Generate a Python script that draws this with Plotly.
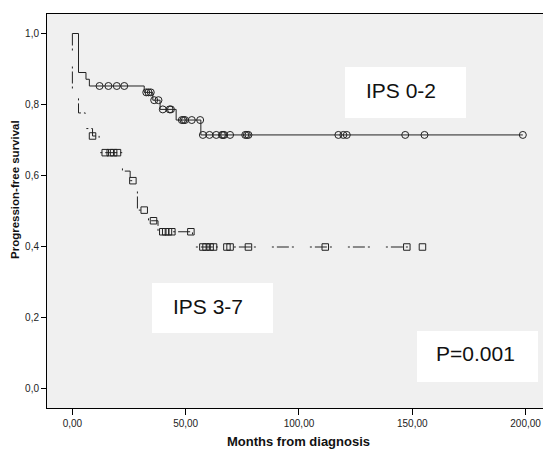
import numpy as np
import plotly.graph_objects as go

# ---- Kaplan-Meier data (months, survival proportion) ----
# IPS 0-2 group
low_event_times = [2.7, 6.0, 7.5, 31.7, 35.5, 38.7, 45.8, 56.7]
low_survival = [0.890, 0.871, 0.852, 0.834, 0.812, 0.786, 0.756, 0.714]
low_last_time = 198.8
low_censor_times = [12.0, 15.9, 19.6, 22.9,
                    32.6, 33.6, 34.6,
                    36.1, 38.0,
                    39.9, 42.9, 43.5,
                    48.3, 49.0, 49.7, 52.7, 56.4,
                    57.6, 60.5, 63.5, 66.0, 66.5, 67.0, 69.6,
                    76.3, 77.0, 77.7, 117.4, 119.6, 121.1,
                    146.9, 155.4, 198.8]

# IPS 3-7 group
high_event_times = [0.0, 2.7, 5.7, 8.9, 11.8, 22.1, 25.5, 27.7, 28.7, 33.6, 37.8, 53.0]
high_survival = [0.820, 0.776, 0.732, 0.711, 0.664, 0.612, 0.585, 0.557, 0.502, 0.472, 0.441, 0.398]
high_last_time = 154.5
high_censor_times = [8.9,
                     14.5, 16.7, 18.2, 19.9,
                     26.7, 31.7, 35.8,
                     39.9, 41.2, 42.4, 43.9, 52.3,
                     57.6, 59.0, 60.8, 62.3, 68.2, 69.6, 77.7,
                     111.6, 147.6, 154.5]

x_tick_vals = [0, 50, 100, 150, 200]
x_tick_text = ["0,00", "50,00", "100,00", "150,00", "200,00"]
y_tick_vals = [0.0, 0.2, 0.4, 0.6, 0.8, 1.0]
y_tick_text = ["0,0", "0,2", "0,4", "0,6", "0,8", "1,0"]

group_labels = ["IPS 0-2", "IPS 3-7"]
p_value_text = "P=0.001"

FONT = "Liberation Sans, Arial, sans-serif"
INK = "#222222"


def km_path(times, surv, last):
    xs = [0.0] + list(times) + [last]
    ys = [1.0] + list(surv) + [surv[-1]]
    return xs, ys


def surv_at(times, surv, t):
    idx = np.searchsorted(np.array(times), t, side="right")
    return 1.0 if idx == 0 else surv[idx - 1]


fig = go.Figure()

lx, ly = km_path(low_event_times, low_survival, low_last_time)
hx, hy = km_path(high_event_times, high_survival, high_last_time)

fig.add_trace(go.Scatter(x=lx, y=ly, mode="lines", line_shape="hv",
                         line=dict(color=INK, width=1), name=group_labels[0],
                         hoverinfo="skip"))
fig.add_trace(go.Scatter(x=hx, y=hy, mode="lines", line_shape="hv",
                         line=dict(color=INK, width=1,
                                   dash="12px,3px,2px,16px,2px,3px"),
                         name=group_labels[1], hoverinfo="skip"))

fig.add_trace(go.Scatter(
    x=low_censor_times,
    y=[surv_at(low_event_times, low_survival, t) for t in low_censor_times],
    mode="markers",
    marker=dict(symbol="circle-open", size=7, color=INK, line=dict(width=1, color=INK)),
    name=group_labels[0] + " censored"))
fig.add_trace(go.Scatter(
    x=high_censor_times,
    y=[surv_at(high_event_times, high_survival, t) for t in high_censor_times],
    mode="markers",
    marker=dict(symbol="square-open", size=6.5, color=INK, line=dict(width=1, color=INK)),
    name=group_labels[1] + " censored"))

# ---- layout in pixel terms ----
W, H = 543, 450
L, R, T, B = 47, 0, 14, 42
PW, PH = W - L - R, H - T - B


def px(x):
    return (x - L) / PW


def py(y):
    return (H - B - y) / PH


boxes = [
    (group_labels[0], (345, 466, 67, 118), (400.5, 90)),
    (group_labels[1], (152, 273, 283, 333), (208, 306)),
    (p_value_text, (417, 538, 331, 382), (475, 353)),
]

shapes = []
annotations = []
for text, (x0, x1, y0, y1), (cx, cy) in boxes:
    shapes.append(dict(type="rect", xref="paper", yref="paper",
                       x0=px(x0), x1=px(x1), y0=py(y1), y1=py(y0),
                       fillcolor="white", line=dict(width=0), layer="below"))
    annotations.append(dict(text=text, xref="paper", yref="paper",
                            x=px(cx), y=py(cy), xanchor="center", yanchor="middle",
                            showarrow=False, font=dict(family=FONT, size=21, color="#111111")))

annotations.append(dict(text="<b>Months from diagnosis</b>", xref="paper", yref="paper",
                        x=px(298), y=py(442), xanchor="center", yanchor="middle",
                        showarrow=False, font=dict(family=FONT, size=13, color="#111111")))
annotations.append(dict(text="<b>Progression-free survival</b>", xref="paper", yref="paper",
                        x=px(15), y=py(190), xanchor="center", yanchor="middle",
                        textangle=-90, showarrow=False,
                        font=dict(family=FONT, size=11.5, color="#111111")))

fig.update_layout(
    width=W, height=H,
    margin=dict(l=L, r=R, t=T, b=B, pad=0),
    paper_bgcolor="white",
    plot_bgcolor="#f0f0f0",
    showlegend=False,
    shapes=shapes,
    annotations=annotations,
    # x axis mirrored for the top frame line; no line on the right edge
    xaxis=dict(range=[-11.2, 207.7], tickvals=x_tick_vals, ticktext=x_tick_text,
               ticks="outside", ticklen=6, tickcolor="black", tickwidth=1,
               showline=True, linecolor="black", linewidth=1, mirror=True,
               showgrid=False, zeroline=False,
               tickfont=dict(family=FONT, size=10, color=INK)),
    yaxis=dict(range=[-0.056, 1.055], tickvals=y_tick_vals, ticktext=y_tick_text,
               ticks="outside", ticklen=5, tickcolor="black", tickwidth=1,
               showline=True, linecolor="black", linewidth=1, mirror=False,
               showgrid=False, zeroline=False,
               tickfont=dict(family=FONT, size=10, color=INK)),
)

fig.write_html("out.html")
